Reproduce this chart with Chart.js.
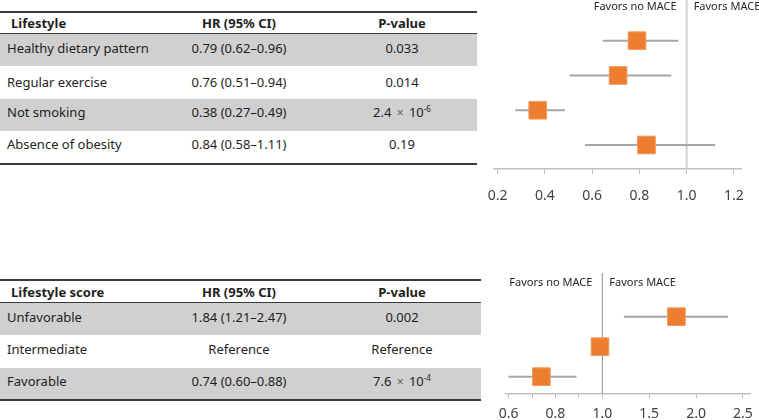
<!DOCTYPE html>
<html lang="en">
<head>
    <meta charset="UTF-8">
    <title>Lifestyle and MACE</title>
    <style>
        html, body {
            margin: 0;
            padding: 0;
            background: #fff;
        }
        body {
            position: relative;
            width: 759px;
            height: 420px;
            overflow: hidden;
            font-family: "Noto Sans", sans-serif;
            color: #1e1e1e;
        }
        .rule {
            position: absolute;
            left: 0;
            background: #3a3a3a;
        }
        .row {
            position: absolute;
            left: 0;
            font-size: 13px;
        }
        .row.gray {
            background: #d0d0d0;
        }
        .row > span {
            position: absolute;
            top: 0;
            white-space: nowrap;
        }
        .row > .c1 { left: 7px; }
        .row > .c2 { left: 139px; width: 200px; text-align: center; }
        .row > .c3 { left: 302px; width: 200px; text-align: center; }
        .row.head { font-weight: bold; }
        .row.head > .c1 { left: 11px; }
        sup { font-size: 8px; vertical-align: 5px; }
        .times { color: #666; padding: 0 5px; }
        canvas {
            position: absolute;
        }
    </style>
</head>
<body>
    <div id="tables"></div>
    <canvas id="chartTop" width="310" height="205" style="left:470px; top:0px;"></canvas>
    <canvas id="chartBottom" width="300" height="160" style="left:480px; top:260px;"></canvas>

    <script src="https://cdn.jsdelivr.net/npm/chart.js"></script>
    <script>
        // --- top panel: individual lifestyle factors ---
        const lifestyleNames = ['Healthy dietary pattern', 'Regular exercise', 'Not smoking', 'Absence of obesity'];
        const lifestyleHR = ['0.79 (0.62–0.96)', '0.76 (0.51–0.94)', '0.38 (0.27–0.49)', '0.84 (0.58–1.11)'];
        const lifestyleP = ['0.033', '0.014', '2.4<span class="times">×</span>10<sup>-6</sup>', '0.19'];
        // values as drawn in the plot
        const lifestylePoint = [0.79, 0.71, 0.37, 0.83];
        const lifestyleLow = [0.645, 0.505, 0.275, 0.57];
        const lifestyleHigh = [0.965, 0.935, 0.485, 1.12];
        const topTicks = [0.2, 0.4, 0.6, 0.8, 1.0, 1.2];

        // --- bottom panel: lifestyle score ---
        const scoreNames = ['Unfavorable', 'Intermediate', 'Favorable'];
        const scoreHR = ['1.84 (1.21–2.47)', 'Reference', '0.74 (0.60–0.88)'];
        const scoreP = ['0.002', 'Reference', '7.6<span class="times">×</span>10<sup>-4</sup>'];
        const scorePoint = [1.79, 0.99, 0.74];
        const scoreLow = [1.23, null, 0.60];
        const scoreHigh = [2.34, null, 0.89];
        const bottomTicks = [0.6, 0.7, 0.8, 0.9, 1.0, 1.5, 2.0, 2.5];
        const bottomLabelled = [0.6, 0.8, 1.0, 1.5, 2.0, 2.5];

        const ORANGE = '#ED7D31';
        const CI_GRAY = '#a6a6a6';

        // ---------- tables ----------
        function addRule(top, width, h) {
            const d = document.createElement('div');
            d.className = 'rule';
            d.style.top = top + 'px';
            d.style.width = width + 'px';
            d.style.height = h + 'px';
            document.getElementById('tables').appendChild(d);
        }

        function addRow(top, height, width, cells, cls, textTop) {
            const d = document.createElement('div');
            d.className = 'row ' + cls;
            d.style.top = top + 'px';
            d.style.height = height + 'px';
            d.style.width = width + 'px';
            d.innerHTML = cells.map((c, i) => `<span class="c${i + 1}" style="top:${textTop}px">${c}</span>`).join('');
            document.getElementById('tables').appendChild(d);
        }

        function buildTable(opt) {
            addRule(opt.top, opt.width, 2);
            addRow(opt.top + 2, opt.headH, opt.width, opt.header, 'head', opt.headText);
            addRule(opt.top + 2 + opt.headH, opt.width, 1);
            let y = opt.top + 3 + opt.headH;
            opt.names.forEach((name, i) => {
                addRow(y, opt.rowH[i], opt.width, [name, opt.hr[i], opt.p[i]], i % 2 === 0 ? 'gray' : '', opt.rowText[i]);
                y += opt.rowH[i];
            });
            addRule(y, opt.width, 2);
        }

        buildTable({
            top: 11, width: 477, headH: 20, headText: 1,
            header: ['Lifestyle', 'HR (95% CI)', 'P-value'],
            names: lifestyleNames, hr: lifestyleHR, p: lifestyleP,
            rowH: [32, 33, 32, 32], rowText: [5, 7, 4, 4]
        });
        buildTable({
            top: 279, width: 481, headH: 21, headText: 2,
            header: ['Lifestyle score', 'HR (95% CI)', 'P-value'],
            names: scoreNames, hr: scoreHR, p: scoreP,
            rowH: [32, 33, 31], rowText: [5, 5, 4]
        });

        // ---------- charts ----------
        // vertical reference line at HR = 1 plus the two "Favors" captions
        function refLinePlugin(xAt, color, width, textY) {
            return {
                id: 'refLine',
                beforeDatasetsDraw(chart) {
                    const ctx = chart.ctx;
                    const area = chart.chartArea;
                    const x = chart.scales.x.getPixelForValue(xAt);
                    ctx.save();
                    ctx.strokeStyle = color;
                    ctx.lineWidth = width;
                    ctx.beginPath();
                    ctx.moveTo(x, area.top);
                    ctx.lineTo(x, area.bottom);
                    ctx.stroke();
                    ctx.fillStyle = '#262626';
                    ctx.font = '11px "Noto Sans", sans-serif';
                    ctx.textBaseline = 'middle';
                    ctx.textAlign = 'right';
                    ctx.fillText('Favors no MACE', x - 10, area.top + textY);
                    ctx.textAlign = 'left';
                    ctx.fillText('Favors MACE', x + 7, area.top + textY);
                    ctx.restore();
                }
            };
        }

        function forestDatasets(point, low, high, toAxis) {
            const sets = [];
            point.forEach((v, i) => {
                if (low[i] === null) return;
                sets.push({
                    type: 'line',
                    order: 2,
                    data: [{ x: toAxis(low[i]), y: i }, { x: toAxis(high[i]), y: i }],
                    borderColor: CI_GRAY,
                    borderWidth: 2,
                    pointRadius: 0
                });
            });
            sets.push({
                type: 'scatter',
                order: 1,
                data: point.map((v, i) => ({ x: toAxis(v), y: i })),
                pointStyle: 'rect',
                pointRadius: 12.5,
                backgroundColor: ORANGE,
                borderColor: '#f29a5c',
                borderWidth: 1
            });
            return sets;
        }

        function axisOptions(min, max, tickVals, labelFn, height, pad) {
            return {
                type: 'linear',
                min: min,
                max: max,
                afterBuildTicks: axis => { axis.ticks = tickVals.map(v => ({ value: v })); },
                afterFit: s => { s.height = height; },
                grid: { drawOnChartArea: false, drawTicks: true, tickLength: 5, color: '#bfbfbf' },
                border: { display: true, color: '#bfbfbf', width: 1.5 },
                ticks: {
                    padding: pad,
                    color: '#404040',
                    font: { size: 14, family: '"Noto Sans", sans-serif' },
                    maxRotation: 0,
                    autoSkip: false,
                    callback: labelFn
                }
            };
        }

        const commonOpts = {
            responsive: false,
            animation: false,
            events: [],
            plugins: { legend: { display: false }, tooltip: { enabled: false } }
        };

        new Chart(document.getElementById('chartTop'), {
            type: 'scatter',
            data: { datasets: forestDatasets(lifestylePoint, lifestyleLow, lifestyleHigh, v => v) },
            options: {
                ...commonOpts,
                layout: { autoPadding: false, padding: { left: 24, right: 39, top: 0, bottom: 0 } },
                scales: {
                    x: axisOptions(0.185, 1.23, topTicks, v => v.toFixed(1), 36, 14),
                    y: { display: false, reverse: true, min: -1.17, max: 3.69 }
                }
            },
            plugins: [refLinePlugin(1.0, '#d0d0d0', 2, 7)]
        });

        // bottom axis is piecewise: 0.1 steps below 1 and 0.5 steps above 1 get the same width per label
        function toScoreAxis(v) {
            return v <= 1 ? (v - 1) / 0.2 : (v - 1) / 0.5;
        }
        function fromScoreAxis(u) {
            return u <= 0 ? 1 + u * 0.2 : 1 + u * 0.5;
        }

        new Chart(document.getElementById('chartBottom'), {
            type: 'scatter',
            data: { datasets: forestDatasets(scorePoint, scoreLow, scoreHigh, toScoreAxis) },
            options: {
                ...commonOpts,
                layout: { autoPadding: false, padding: { left: 26, right: 30, top: 13, bottom: 0 } },
                scales: {
                    x: axisOptions(-2.055, 3.15, bottomTicks.map(toScoreAxis), u => {
                        const v = Math.round(fromScoreAxis(u) * 10) / 10;
                        return bottomLabelled.includes(v) ? v.toFixed(1) : '';
                    }, 26.7, 7),
                    y: { display: false, reverse: true, min: -1.457, max: 2.553 }
                }
            },
            plugins: [refLinePlugin(toScoreAxis(1.0), '#8c8c8c', 1, 10)]
        });
    </script>
</body>
</html>
